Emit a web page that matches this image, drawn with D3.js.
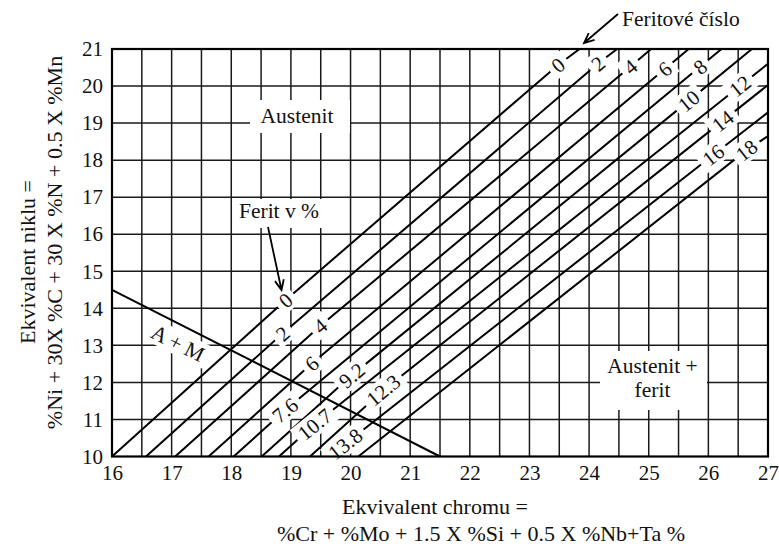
<!DOCTYPE html>
<html>
<head>
<meta charset="utf-8">
<script src="https://cdn.jsdelivr.net/npm/d3@7"></script>
<style>
  html, body { margin: 0; padding: 0; background: #fff; }
  svg { display: block; }
  text { font-family: "Liberation Serif", "Times New Roman", serif; fill: #111; }
</style>
</head>
<body>
<svg id="chart" width="779" height="547"></svg>
<script>
// Axis ticks (chromium equivalent on x, nickel equivalent on y)
const xTicks = [16, 17, 18, 19, 20, 21, 22, 23, 24, 25, 26, 27];
const yTicks = [10, 11, 12, 13, 14, 15, 16, 17, 18, 19, 20, 21];
// Grid: vertical lines every half unit, horizontal every unit
const gridX = [16.5, 17, 17.5, 18, 18.5, 19, 19.5, 20, 20.5, 21, 21.5, 22, 22.5,
               23, 23.5, 24, 24.5, 25, 25.5, 26, 26.5];
const gridY = [11, 12, 13, 14, 15, 16, 17, 18, 19, 20];

// Iso-ferrite lines: ferrite number (FN) and the matching ferrite percent
const fnValues  = ["0", "2", "4", "6", "8", "10", "12", "14", "16", "18"];
const pctValues = ["0", "2", "4", "6", "7.6", "9.2", "10.7", "12.3", "13.8", null];
// Points along each line in (Cr eq, Ni eq)
const lineStart = [[16.00, 10], [16.57, 10], [17.06, 10], [17.62, 10], [18.04, 10],
                   [18.51, 10], [18.80, 10], [19.32, 10], [19.68, 10], [20.13, 10]];
const pctPoint  = [[18.91, 14.22], [18.86, 13.32], [19.49, 13.52], [19.35, 12.51], [18.90, 11.25],
                   [20.02, 12.19], [19.40, 10.87], [20.55, 11.79], [19.91, 10.34], null];
const fnPoint   = [[23.48, 20.57], [24.15, 20.61], [24.69, 20.52], [25.27, 20.46], [25.86, 20.52],
                   [25.67, 19.60], [26.53, 20.00], [26.24, 19.06], [26.08, 18.14], [26.64, 18.27]];
const lineEnd   = [[23.84, 21], [24.47, 21], [25.04, 21], [25.67, 21], [26.22, 21],
                   [26.73, 21], [27, 20.60], [27, 20.03], [27, 19.29], [27, 18.65]];

// Austenite + martensite boundary
const amLine = [[16, 14.5], [21.5, 10]];

const svg = d3.select("#chart");
const W = 779, H = 547;
const x = d3.scaleLinear().domain([16, 27]).range([112, 768]);
const y = d3.scaleLinear().domain([10, 21]).range([456.5, 49]);
const P = d => [x(d[0]), y(d[1])];

svg.append("rect").attr("width", W).attr("height", H).attr("fill", "#fff");

// grid
const grid = svg.append("g").attr("stroke", "#1a1a1a").attr("stroke-width", 1.5);
grid.selectAll("line.v").data(gridX).join("line")
  .attr("x1", d => x(d)).attr("x2", d => x(d))
  .attr("y1", y(10)).attr("y2", y(21));
grid.selectAll("line.h").data(gridY).join("line")
  .attr("x1", x(16)).attr("x2", x(27))
  .attr("y1", d => y(d)).attr("y2", d => y(d));

// iso-ferrite lines
const lineGen = d3.line().x(d => x(d[0])).y(d => y(d[1]));
const ferrite = fnValues.map((fn, i) => {
  const pts = [lineStart[i]];
  if (pctPoint[i]) pts.push(pctPoint[i]);
  pts.push(fnPoint[i], lineEnd[i]);
  return pts;
});
svg.append("g").selectAll("path").data(ferrite).join("path")
  .attr("d", lineGen).attr("fill", "none")
  .attr("stroke", "#000").attr("stroke-width", 2);

// A + M boundary
svg.append("path").attr("d", lineGen(amLine)).attr("fill", "none")
  .attr("stroke", "#000").attr("stroke-width", 2);

// label placed on a line, with a white box that breaks the lines behind it
function lineLabel(pt, from, to, txt, fs) {
  const [px, py] = P(pt);
  const a = P(from), b = P(to);
  const ang = Math.atan2(b[1] - a[1], b[0] - a[0]) * 180 / Math.PI;
  const g = svg.append("g").attr("transform", `translate(${px},${py}) rotate(${ang})`);
  const r = g.append("rect").attr("fill", "#fff");
  const t = g.append("text").attr("text-anchor", "middle").attr("dy", "0.35em")
    .attr("font-size", fs).text(txt);
  const w = t.node().getComputedTextLength() + 10;
  const h = 22;
  r.attr("x", -w / 2).attr("y", -h / 2).attr("width", w).attr("height", h);
}

ferrite.forEach((pts, i) => {
  if (pctValues[i] !== null) lineLabel(pctPoint[i], lineStart[i], fnPoint[i], pctValues[i], 21);
  const prev = pctPoint[i] || lineStart[i];
  lineLabel(fnPoint[i], prev, lineEnd[i], fnValues[i], 21);
});

// A + M label, beneath and parallel to the boundary
(function () {
  const a = P(amLine[0]), b = P(amLine[1]);
  const ang = Math.atan2(b[1] - a[1], b[0] - a[0]) * 180 / Math.PI;
  const g = svg.append("g").attr("transform", `translate(178,343) rotate(${ang})`);
  const r = g.append("rect").attr("fill", "#fff");
  const t = g.append("text").attr("text-anchor", "middle").attr("dy", "0.35em")
    .attr("font-size", 21.5).text("A + M");
  const w = t.node().getComputedTextLength() + 10;
  r.attr("x", -w / 2).attr("y", -12).attr("width", w).attr("height", 24);
})();

// region labels
function boxedText(lines, cx, baselines, box) {
  svg.append("rect").attr("fill", "#fff")
    .attr("x", box[0]).attr("y", box[1]).attr("width", box[2] - box[0]).attr("height", box[3] - box[1]);
  lines.forEach((s, k) => svg.append("text").attr("x", cx).attr("y", baselines[k])
    .attr("text-anchor", "middle").attr("font-size", 21.5).text(s));
}
boxedText(["Austenit"], 297, [123], [250, 100, 350, 133]);
boxedText(["Austenit +", "ferit"], 652.5, [373, 397], [600, 351, 707, 410]);
boxedText(["Ferit v %"], 279, [218], [236, 199, 322, 228]);

svg.append("text").attr("x", 622).attr("y", 26).attr("font-size", 21.5).text("Feritové číslo");

// arrows
function arrow(from, to) {
  const [x1, y1] = from, [x2, y2] = to;
  const ang = Math.atan2(y2 - y1, x2 - x1);
  const L = 11, s = 0.42;
  const h1 = [x2 - L * Math.cos(ang - s), y2 - L * Math.sin(ang - s)];
  const h2 = [x2 - L * Math.cos(ang + s), y2 - L * Math.sin(ang + s)];
  svg.append("path")
    .attr("d", `M${x1},${y1}L${x2},${y2}M${h1[0]},${h1[1]}L${x2},${y2}L${h2[0]},${h2[1]}`)
    .attr("fill", "none").attr("stroke", "#000").attr("stroke-width", 1.8);
}
arrow([268, 227], [281.5, 290]);
arrow([618, 14], [584, 43]);

// frame
svg.append("rect").attr("x", x(16)).attr("y", y(21))
  .attr("width", x(27) - x(16)).attr("height", y(10) - y(21))
  .attr("fill", "none").attr("stroke", "#000").attr("stroke-width", 2.2);

// axes
const xAxis = svg.append("g").attr("transform", `translate(0,${y(10)})`)
  .call(d3.axisBottom(x).tickValues(xTicks).tickSize(0).tickPadding(9).tickFormat(d3.format("d")));
const yAxis = svg.append("g").attr("transform", `translate(${x(16)},0)`)
  .call(d3.axisLeft(y).tickValues(yTicks).tickSize(0).tickPadding(9).tickFormat(d3.format("d")));
[xAxis, yAxis].forEach(a => {
  a.select(".domain").remove();
  a.selectAll("text").attr("font-size", 21).attr("fill", "#111")
    .attr("font-family", "'Liberation Serif','Times New Roman',serif");
});

// axis titles
svg.append("text").attr("x", 435).attr("y", 514).attr("text-anchor", "middle")
  .attr("font-size", 22).text("Ekvivalent chromu =");
svg.append("text").attr("x", 481).attr("y", 541).attr("text-anchor", "middle")
  .attr("font-size", 22).text("%Cr + %Mo + 1.5 X %Si + 0.5 X %Nb+Ta %");
svg.append("text").attr("transform", "translate(35,262) rotate(-90)").attr("text-anchor", "middle")
  .attr("font-size", 22).text("Ekvivalent niklu =");
svg.append("text").attr("transform", "translate(62,242.5) rotate(-90)").attr("text-anchor", "middle")
  .attr("font-size", 22).text("%Ni + 30X %C + 30 X %N + 0.5 X %Mn");
</script>
</body>
</html>
